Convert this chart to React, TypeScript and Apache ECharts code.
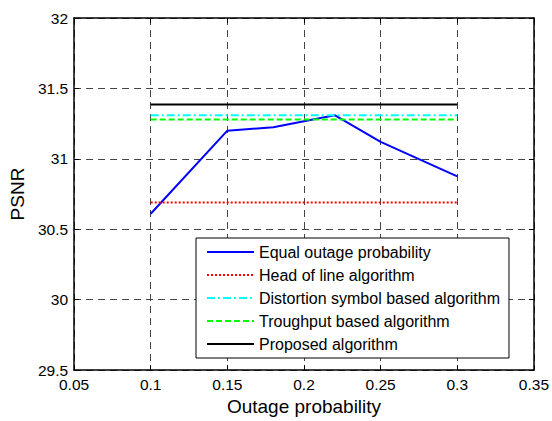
import React, { useEffect, useRef } from "react";
import * as echarts from "echarts";

const seriesNames = [
  "Equal outage probability",
  "Head of line algorithm",
  "Distortion symbol based algorithm",
  "Troughput based algorithm",
  "Proposed algorithm",
];
const equalOutageX = [0.1, 0.15, 0.18, 0.22, 0.25, 0.3];
const equalOutageY = [30.61, 31.2, 31.225, 31.31, 31.12, 30.875];
const lineRangeX = [0.1, 0.3];
const headOfLine = 30.69;
const distortionSymbol = 31.31;
const throughputBased = 31.28;
const proposed = 31.385;

const xTicks = { min: 0.05, max: 0.35, interval: 0.05 };
const yTicks = { min: 29.5, max: 32, interval: 0.5 };

const FONT = "'Liberation Sans', Arial, sans-serif";

export default function App() {
  const ref = useRef<HTMLDivElement>(null);
  useEffect(() => {
    if (!ref.current) return;
    const chart = echarts.init(ref.current, null, { renderer: "svg" });
    const flat = (v: number) => lineRangeX.map((x) => [x, v]);
    const gridLine = {
      show: true,
      lineStyle: { color: "#444444", type: [7, 5] as any, width: 1 },
    };
    const axisLine = { show: true, lineStyle: { color: "#000", width: 1.5 } };
    const tick = { show: true, inside: true, length: 5, lineStyle: { color: "#000", width: 1 } };
    const option: any = {
      animation: false,
      backgroundColor: "#fff",
      textStyle: { fontFamily: FONT },
      grid: { left: 73, top: 18, right: 18, bottom: 48 },
      xAxis: [
        {
          type: "value",
          ...xTicks,
          name: "Outage probability",
          nameLocation: "middle",
          nameGap: 24,
          nameTextStyle: { fontSize: 19, color: "#000", fontFamily: FONT, verticalAlign: "top" },
          axisLine,
          axisTick: tick,
          splitLine: gridLine,
          axisLabel: {
            color: "#000",
            fontSize: 15.5,
            fontFamily: FONT,
            margin: 6,
            formatter: (v: number) => String(parseFloat(v.toFixed(2))),
          },
        },
        {
          type: "value",
          position: "top",
          ...xTicks,
          axisLine,
          axisTick: tick,
          splitLine: { show: false },
          axisLabel: { show: false },
        },
      ],
      yAxis: [
        {
          type: "value",
          ...yTicks,
          name: "PSNR",
          nameLocation: "middle",
          nameGap: 46,
          nameTextStyle: { fontSize: 19, color: "#000", fontFamily: FONT },
          axisLine,
          axisTick: tick,
          splitLine: gridLine,
          axisLabel: {
            color: "#000",
            fontSize: 15.5,
            fontFamily: FONT,
            margin: 6,
            formatter: (v: number) => String(parseFloat(v.toFixed(1))),
          },
        },
        {
          type: "value",
          position: "right",
          ...yTicks,
          axisLine,
          axisTick: tick,
          splitLine: { show: false },
          axisLabel: { show: false },
        },
      ],
      legend: {
        orient: "vertical",
        left: 196,
        top: 238,
        padding: [6, 9, 6, 10],
        itemWidth: 47,
        itemHeight: 14,
        itemGap: 7,
        borderColor: "#000",
        borderWidth: 1,
        backgroundColor: "#fff",
        itemStyle: { opacity: 0 },
        textStyle: { fontSize: 16, color: "#000", fontFamily: FONT, lineHeight: 16 },
        data: seriesNames,
      },
      series: [
        {
          name: seriesNames[0],
          type: "line",
          showSymbol: false,
          symbol: "none",
          data: equalOutageX.map((x, i) => [x, equalOutageY[i]]),
          lineStyle: { color: "#0000ff", width: 2 },
          itemStyle: { color: "#0000ff" },
        },
        {
          name: seriesNames[1],
          type: "line",
          symbol: "none",
          data: flat(headOfLine),
          lineStyle: { color: "#ff0000", width: 2, type: [2, 2] },
          itemStyle: { color: "#ff0000" },
        },
        {
          name: seriesNames[2],
          type: "line",
          symbol: "none",
          data: flat(distortionSymbol),
          lineStyle: { color: "#00ffff", width: 2, type: [8, 3, 2, 3] },
          itemStyle: { color: "#00ffff" },
        },
        {
          name: seriesNames[3],
          type: "line",
          symbol: "none",
          data: flat(throughputBased),
          lineStyle: { color: "#00ff00", width: 2, type: [6, 3] },
          itemStyle: { color: "#00ff00" },
        },
        {
          name: seriesNames[4],
          type: "line",
          symbol: "none",
          data: flat(proposed),
          lineStyle: { color: "#000000", width: 2 },
          itemStyle: { color: "#000000" },
        },
      ],
    };
    chart.setOption(option);
    return () => chart.dispose();
  }, []);
  return <div ref={ref} style={{ width: 552, height: 421, position: "absolute", left: 0, top: 0 }} />;
}
